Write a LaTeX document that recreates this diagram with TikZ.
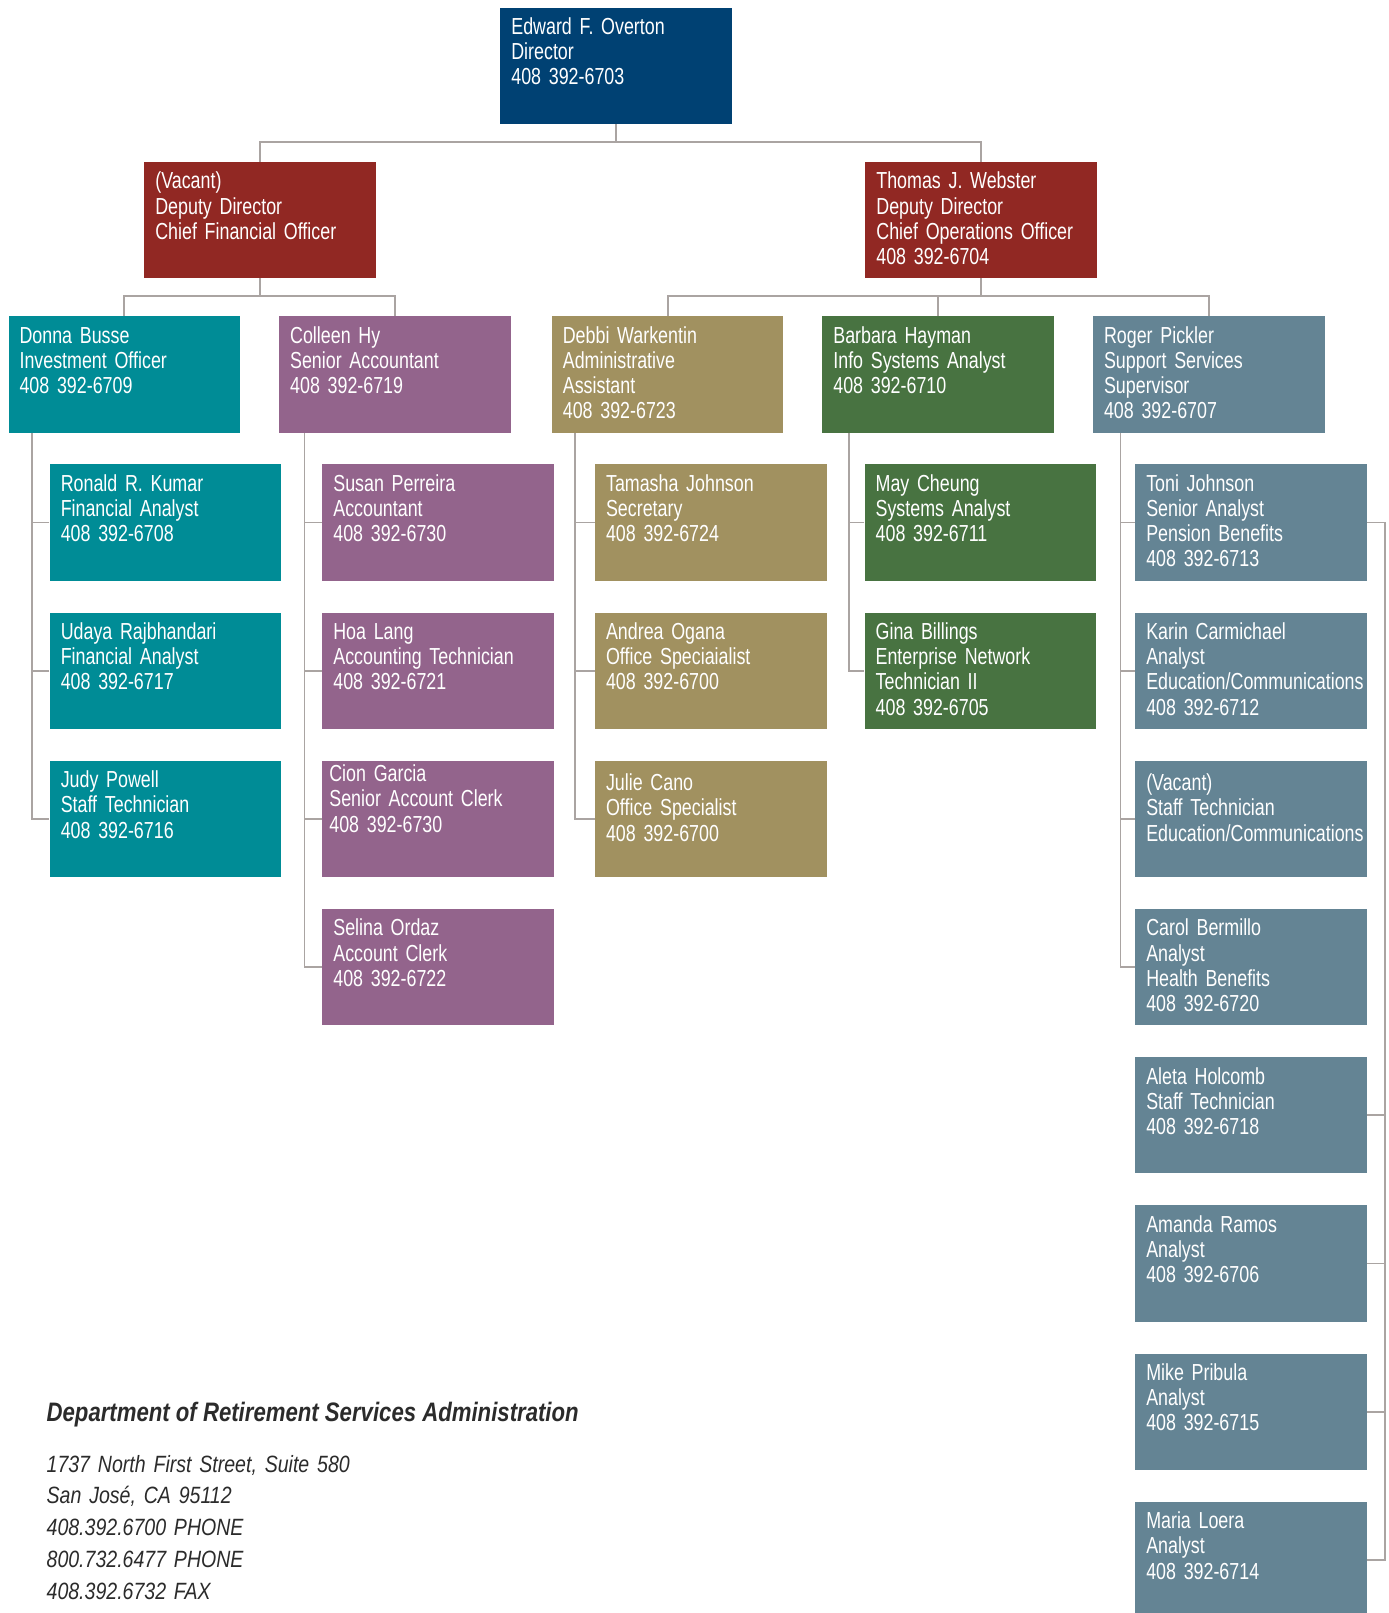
\documentclass[tikz,border=0pt]{standalone}
\usepackage{fontspec}
\setmainfont{Liberation Sans}[FakeStretch=0.83]
\newfontfamily\condfont{Liberation Sans}[FakeStretch=0.77]
\usepackage{tikz}
\usetikzlibrary{calc}
\definecolor{navy}{HTML}{004173}
\definecolor{brick}{HTML}{912823}
\definecolor{orgteal}{HTML}{008C96}
\definecolor{orgplum}{HTML}{93648C}
\definecolor{orgolive}{HTML}{A19160}
\definecolor{orggreen}{HTML}{487341}
\definecolor{orgslate}{HTML}{648494}
\definecolor{linkgray}{HTML}{AAA4A2}
\definecolor{footgray}{HTML}{2B2B2B}
\newcommand{\boxfont}{\condfont\fontsize{13.2}{14.35}\selectfont}
\newcommand{\headfont}{\bfseries\itshape\fontsize{15.2}{18}\selectfont}
\newcommand{\addrfont}{\itshape\fontsize{13.4}{18.14}\selectfont}
\tikzset{
  box/.style={anchor=north west,inner xsep=0.22cm,inner ysep=0pt,text width=4.19cm,
    text height=0.54cm,text depth=1.786cm,align=left,text=white,font=\boxfont},
  link/.style={draw=linkgray,line width=1.1pt},
  foot/.style={anchor=base west,inner sep=0pt,text=footgray}
}

\begin{document}
\begin{tikzpicture}[x=0.02cm,y=-0.02cm]
\useasboundingbox (0,0) rectangle (1389,1613);
\clip (0,0) rectangle (1389,1613);
% director
\node[box,fill=navy] (dir) at (500,7.2) {Edward F. Overton\\Director\\408 392-6703};
% deputy directors
\node[box,fill=brick] (ddf) at (144,161.5) {(Vacant)\\Deputy Director\\Chief Financial Officer};
\node[box,fill=brick] (ddo) at (865,161.5) {Thomas J. Webster\\Deputy Director\\Chief Operations Officer\\408 392-6704};
% third row
\node[box,fill=orgteal] (donna) at (8.2,316) {Donna Busse\\Investment Officer\\408 392-6709};
\node[box,fill=orgplum] (colleen) at (278.8,316) {Colleen Hy\\Senior Accountant\\408 392-6719};
\node[box,fill=orgolive] (debbi) at (551.5,316) {Debbi Warkentin\\Administrative\\Assistant\\408 392-6723};
\node[box,fill=orggreen] (barbara) at (822,316) {Barbara Hayman\\Info Systems Analyst\\408 392-6710};
\node[box,fill=orgslate] (roger) at (1092.7,316) {Roger Pickler\\Support Services\\Supervisor\\408 392-6707};
% investment
\node[box,fill=orgteal] (kumar) at (49.4,464) {Ronald R. Kumar\\Financial Analyst\\408 392-6708};
\node[box,fill=orgteal] (udaya) at (49.4,612.2) {Udaya Rajbhandari\\Financial Analyst\\408 392-6717};
\node[box,fill=orgteal] (judy) at (49.4,760.4) {Judy Powell\\Staff Technician\\408 392-6716};
% accounting
\node[box,fill=orgplum] (susan) at (322,464) {Susan Perreira\\Accountant\\408 392-6730};
\node[box,fill=orgplum] (hoa) at (322,612.2) {Hoa Lang\\Accounting Technician\\408 392-6721};
\node[box,fill=orgplum,inner xsep=0.14cm,text width=4.35cm,text height=0.42cm,text depth=1.906cm] (cion) at (322,760.4) {Cion Garcia\\Senior Account Clerk\\408 392-6730};
\node[box,fill=orgplum] (selina) at (322,908.6) {Selina Ordaz\\Account Clerk\\408 392-6722};
% administration
\node[box,fill=orgolive] (tamasha) at (594.7,464) {Tamasha Johnson\\Secretary\\408 392-6724};
\node[box,fill=orgolive] (andrea) at (594.7,612.2) {Andrea Ogana\\Office Speciaialist\\408 392-6700};
\node[box,fill=orgolive,text height=0.6cm,text depth=1.726cm] (julie) at (594.7,760.4) {Julie Cano\\Office Specialist\\408 392-6700};
% info systems
\node[box,fill=orggreen] (may) at (864.3,464) {May Cheung\\Systems Analyst\\408 392-6711};
\node[box,fill=orggreen] (gina) at (864.3,612.2) {Gina Billings\\Enterprise Network\\Technician II\\408 392-6705};
% support services
\node[box,fill=orgslate] (toni) at (1134.9,464) {Toni Johnson\\Senior Analyst\\Pension Benefits\\408 392-6713};
\node[box,fill=orgslate] (karin) at (1134.9,612.2) {Karin Carmichael\\Analyst\\Education/Communications\\408 392-6712};
\node[box,fill=orgslate,text height=0.6cm,text depth=1.726cm] (vacst) at (1134.9,760.4) {(Vacant)\\Staff Technician\\Education/Communications};
\node[box,fill=orgslate] (carol) at (1134.9,908.6) {Carol Bermillo\\Analyst\\Health Benefits\\408 392-6720};
\node[box,fill=orgslate] (aleta) at (1134.9,1056.8) {Aleta Holcomb\\Staff Technician\\408 392-6718};
\node[box,fill=orgslate] (amanda) at (1134.9,1205) {Amanda Ramos\\Analyst\\408 392-6706};
\node[box,fill=orgslate] (mike) at (1134.9,1353.2) {Mike Pribula\\Analyst\\408 392-6715};
\node[box,fill=orgslate] (maria) at (1134.9,1501.4) {Maria Loera\\Analyst\\408 392-6714};
% connectors
\draw[link] (dir.south) -- (dir.south |- 0,142) coordinate (b1);
\draw[link] (ddf.north) |- (b1) -| (ddo.north);
\draw[link] (ddf.south) -- (ddf.south |- 0,296) coordinate (b2);
\draw[link] (donna.north) |- (b2) -| (colleen.north);
\draw[link] (ddo.south) -- (ddo.south |- 0,296) coordinate (b3);
\draw[link] (debbi.north) |- (b3) -| (roger.north);
\draw[link] (barbara.north) -- (barbara.north |- b3);
\foreach \p/\l/\d in {donna/judy/23.7,colleen/selina/25.7,debbi/julie/23.7,barbara/gina/26.8,roger/carol/27.8}
  \draw[link] ($(\p.south west)+(\d,0)$) coordinate (s-\p) |- (\l.west);
\foreach \p/\k in {donna/kumar,donna/udaya,colleen/susan,colleen/hoa,colleen/cion,
    debbi/tamasha,debbi/andrea,barbara/may,roger/toni,roger/karin,roger/vacst}
  \draw[link] (\k.west) -- (\k.west -| s-\p);
\coordinate (rs) at (1385,0);
\draw[link] (toni.east) -| (rs |- maria.east) -- (maria.east);
\foreach \k in {aleta,amanda,mike}
  \draw[link] (\k.east) -- (\k.east -| rs);
% footer
\node[foot,font=\headfont] (dept) at (46.3,1421) {Department of Retirement Services Administration};
\node[foot,font=\addrfont,text width=9cm,align=left] (addr) at (46.3,1472) {1737 North First Street, Suite 580\\San José, CA 95112\\408.392.6700 PHONE\\800.732.6477 PHONE\\408.392.6732 FAX};
\end{tikzpicture}
\end{document}
